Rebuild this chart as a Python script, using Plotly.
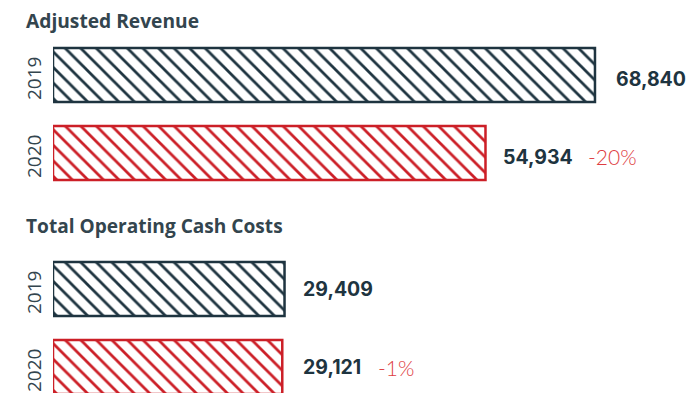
import plotly.graph_objects as go

# Revenue and cost figures (thousands), 2019 vs 2020
years = ["2019", "2020"]
revenue = [68840, 54934]
cash_costs = [29409, 29121]
revenue_change = "-20%"
costs_change = "-1%"

DARK = "#1e3440"
RED = "#cc1f27"
PCT_RED = "#de3d42"
TITLE_GREY = "#33454e"
FONT = "Open Sans"
NUM_FONT = "Inter"

bar_colors = [DARK, RED]

fig = go.Figure()


def add_bars(values, yaxis):
    fig.add_trace(go.Bar(
        x=values,
        y=years,
        orientation="h",
        width=0.69,
        yaxis=yaxis,
        marker=dict(
            color="white",
            line=dict(color=bar_colors, width=2.5),
            pattern=dict(shape="\\", size=11, solidity=0.25,
                         fgcolor=bar_colors, bgcolor="white",
                         fgopacity=1, fillmode="replace"),
        ),
        hoverinfo="skip",
        showlegend=False,
    ))


add_bars(revenue, "y")
add_bars(cash_costs, "y2")


# value labels beside each bar, plus year-over-year change for 2020
def add_labels(values, change, yref, num_shift, pct_shift, dy):
    for i, v in enumerate(values):
        fig.add_annotation(
            x=v, y=i, xref="x", yref=yref,
            text=f"<b>{v:,}</b>", showarrow=False,
            xanchor="left", xshift=num_shift[i], yshift=dy,
            font=dict(family=NUM_FONT, size=19.5, color=DARK),
        )
    fig.add_annotation(
        x=values[1], y=1, xref="x", yref=yref,
        text=change, showarrow=False,
        xanchor="left", xshift=pct_shift, yshift=dy,
        font=dict(family="Lato", size=21, weight=300, color=PCT_RED),
    )


add_labels(revenue, revenue_change, "y", [19, 16], 101, -4)
add_labels(cash_costs, costs_change, "y2", [16, 19], 94, 0)


# rotated year labels to the left of each bar
def add_year_labels(yref):
    for i, yr in enumerate(years):
        fig.add_annotation(
            x=0, xref="paper", xshift=-19, y=i, yref=yref, yshift=-4,
            text=yr, textangle=-90, showarrow=False,
            xanchor="center", yanchor="middle",
            font=dict(family=FONT, size=19, color=TITLE_GREY),
        )


add_year_labels("y")
add_year_labels("y2")

fig.add_annotation(
    text="<b>Adjusted Revenue</b>", xref="paper", yref="paper",
    x=0, xshift=-29, y=(393 - 20) / 393, xanchor="left", yanchor="middle",
    showarrow=False,
    font=dict(family=FONT, size=19.2, color=TITLE_GREY),
)
fig.add_annotation(
    text="<b>Total Operating Cash Costs</b>", xref="paper", yref="paper",
    x=0, xshift=-29, y=(393 - 226) / 393, xanchor="left", yanchor="middle",
    showarrow=False,
    font=dict(family=FONT, size=19.1, color=TITLE_GREY),
)

axis_common = dict(
    type="category", showticklabels=False, showgrid=False, zeroline=False,
    showline=False, ticks="",
)

fig.update_layout(
    width=697, height=393,
    margin=dict(l=53, r=0, t=0, b=0),
    paper_bgcolor="white", plot_bgcolor="white",
    xaxis=dict(range=[0, 81800], visible=False, fixedrange=True),
    yaxis=dict(domain=[0.5115, 0.9084], range=[1.5, -0.5], **axis_common),
    yaxis2=dict(domain=[0.0, 0.3639], range=[1.333, -0.5], anchor="x",
                **axis_common),
    bargap=0.3,
)

fig.write_html("out.html")
